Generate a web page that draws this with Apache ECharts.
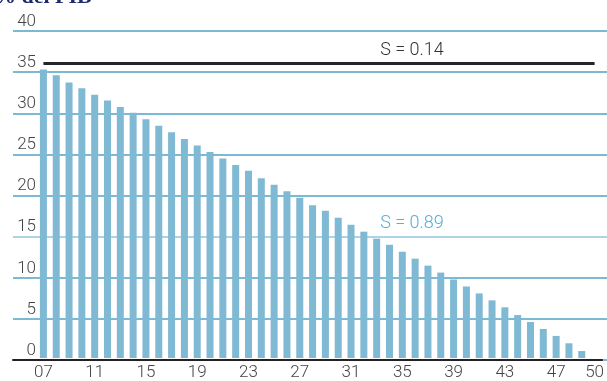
<!DOCTYPE html>
<html>
<head>
<meta charset="utf-8">
<script src="https://cdn.jsdelivr.net/npm/echarts@6/dist/echarts.min.js"></script>
<style>html,body{margin:0;padding:0;background:#fff}#c{width:607px;height:381px}</style>
</head>
<body>
<div id="c"></div>
<script>
const categories = ['07','08','09','10','11','12','13','14','15','16','17','18','19','20','21','22','23','24','25','26','27','28','29','30','31','32','33','34','35','36','37','38','39','40','41','42','43','44','45','46','47','48','49','50'];
const values = [35.3,34.6,33.7,33.0,32.2,31.5,30.7,30.0,29.2,28.4,27.6,26.8,26.0,25.2,24.4,23.6,22.9,22.0,21.2,20.4,19.6,18.7,18.0,17.15,16.3,15.45,14.6,13.85,13.0,12.15,11.3,10.45,9.6,8.75,7.9,7.05,6.2,5.25,4.4,3.55,2.7,1.8,0.85,null];
const yTicks = [0,5,10,15,20,25,30,35,40];
const refLevel = 36;
const refLabel = 'S = 0.14';
const baseLabel = 'S = 0.89';
const titleText = '% del PIB';

const font = 'Roboto, "Open Sans", sans-serif';
const chart = echarts.init(document.getElementById('c'), null, {renderer:'canvas'});
const gridColors = yTicks.map(v => v === 15 ? '#8fc6dd' : '#4fa3c7');

chart.setOption({
  animation:false,
  grid:[
    {left:13, right:0, top:31, bottom:21},
    {left:37, right:5, top:31, bottom:21},
    {left:13, right:5, top:31, bottom:21}
  ],
  xAxis:[
    {gridIndex:0, type:'value', show:false, min:0, max:1},
    {gridIndex:1, type:'category', data:categories,
     axisLine:{show:false}, axisTick:{show:false},
     axisLabel:{interval:(i)=> i%4===0 || i===categories.length-1, margin:6,
       color:'#444', fontSize:17, fontFamily:font, fontWeight:300}},
    {gridIndex:2, type:'value', min:0, max:1,
     axisLine:{show:true, lineStyle:{color:'#222', width:2}},
     axisTick:{show:false}, axisLabel:{show:false}, splitLine:{show:false}}
  ],
  yAxis:[
    {gridIndex:0, type:'value', min:0, max:40, interval:5,
     axisLine:{show:false}, axisTick:{show:false},
     splitLine:{show:true, lineStyle:{color:gridColors, width:1.5}},
     axisLabel:{inside:true, margin:23, align:'right', verticalAlign:'bottom',
       padding:[0,0,1,0], color:'#444', fontSize:17, fontFamily:font, fontWeight:300}},
    {gridIndex:1, type:'value', min:0, max:40, show:false},
    {gridIndex:2, type:'value', min:0, max:1, show:false}
  ],
  series:[
    {type:'bar', xAxisIndex:1, yAxisIndex:1, data:values, barWidth:7,
     itemStyle:{color:'#80b9d3'}, z:3,
     markLine:{symbol:'none', silent:true,
       lineStyle:{color:'#262626', width:3, type:'solid'},
       label:{show:false},
       data:[[{coord:[categories[0], refLevel]},{coord:[categories[categories.length-1], refLevel]}]]}}
  ],
  graphic:[
    {type:'text', left:-6, top:-14, style:{text:titleText, font:'bold 22px "Liberation Serif", serif', fill:'#1e2a6e'}},
    {type:'text', x:412, y:50, style:{text:refLabel, font:'300 18px '+font, fill:'#333', align:'center', verticalAlign:'middle'}},
    {type:'text', x:412, y:223, style:{text:baseLabel, font:'300 18px '+font, fill:'#5aaed0', align:'center', verticalAlign:'middle'}}
  ]
});
</script>
</body>
</html>
